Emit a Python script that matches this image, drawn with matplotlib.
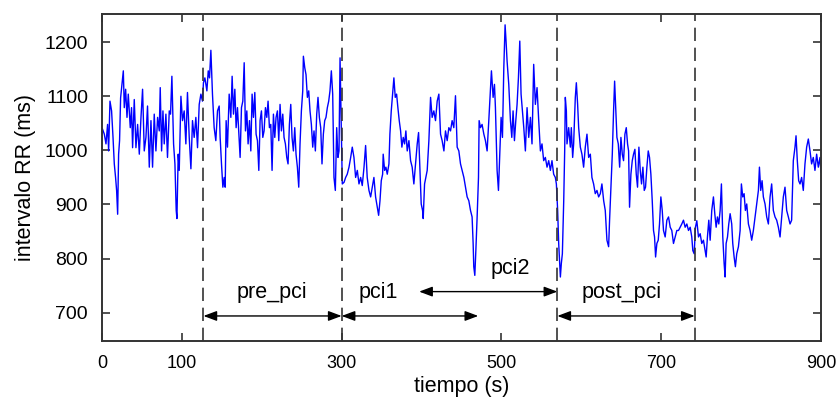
import matplotlib
matplotlib.use("Agg")
import matplotlib.pyplot as plt

plt.rcParams["font.family"] = ["Liberation Sans", "DejaVu Sans"]

# Serie RR (tiempo en s, intervalo RR en ms)
tiempo = [
    0.5, 2.9, 5, 7, 8.3, 10, 12, 13.8, 15.4, 17, 18.3, 19.6, 20.8, 22, 23.3, 25, 26.7, 27.9, 29.6, 31.3,
    32.9, 35.4, 37, 38.3, 40.4, 42.5, 44.6, 46.7, 48.8, 50.8, 52.9, 55, 57, 59.2, 61.3, 63.3, 65.4, 67.5,
    69.6, 71.7, 72.9, 74.6, 76.3, 77.9, 80, 82, 84.2, 85.8, 87.5, 89.6, 91.3, 92.9, 93.8, 95.4, 96.7,
    98.8, 100.8, 102.9, 105, 107, 109.2, 111.3, 113.3, 115.4, 117.5, 119.6, 121.7, 123.8, 125.8, 127,
    128.8, 131.3, 133, 134.6, 136.3, 138.3, 140.4, 142.5, 144.6, 146.7, 147.9, 149.6, 151.3, 153, 154.2,
    155.4, 157.1, 159.2, 161.3, 162.9, 164.6, 166.3, 167.9, 169.6, 171.3, 172.9, 174.6, 176.3, 178,
    179.6, 181.3, 182.9, 184.6, 186.3, 187.9, 189.6, 191.3, 192.9, 194.6, 196.3, 197.9, 199.6, 201.3,
    202.9, 204.6, 206.3, 207.9, 209.6, 211.3, 212.9, 214.6, 216.3, 217.9, 219.6, 221.3, 222.9, 224.6,
    226.3, 227.9, 229.6, 231.3, 232.9, 234.6, 236.3, 237.9, 239.6, 241.3, 242.9, 244.6, 246.3, 247.9,
    249.6, 251.3, 252.1, 253.8, 255.4, 257.1, 258.8, 260.4, 262.1, 263.8, 265.4, 267.1, 268.8, 270.4,
    272.1, 273.8, 275.4, 277.1, 278.8, 280.4, 282.1, 283.8, 285.4, 287.1, 288.8, 290.4, 292.1, 293.8,
    295.4, 296.7, 298,
    300.8, 303, 305, 307, 309.2, 311.3, 313.3, 315.4, 317.5, 319.6, 321.7, 323.8, 325.8, 328, 330, 332,
    334.2, 336.3, 338.3, 340.4, 342.5, 344.6, 346.3, 348, 349.6, 351.3, 352, 353.8, 355.4, 357.1, 359.2,
    360.4, 362.1, 363.8, 365.4, 367.1, 368.8, 370.4, 372.1, 373.8, 375.4, 377.1, 378.8, 380.4, 382.1,
    384.2, 386.3, 388.3, 390.4, 392.5, 394.6, 396.3, 397.9, 399.6, 401.3, 402.1, 403.8, 405.4, 407.1,
    409.2, 411.3, 413.3, 415.4, 417.5, 419.6, 421.7, 423.8, 425.8, 428, 430, 432.1, 434.2, 436.3, 438.3,
    440.4, 442.5, 444.6, 446.7, 448.8, 450.8, 453, 455, 457.1, 459.2, 461.3, 463.3, 464.6, 465.4, 466.7,
    468, 469.6, 471.3, 472.1, 473.8, 475.8, 478, 480, 482.1, 484.2, 486.3, 487.5, 489.6, 491.3, 492.5,
    494.6, 496.3, 498, 499.6, 501.3, 503, 504.6, 505.8, 507.1, 509.2, 511.3, 513, 514.6, 516.3, 518,
    519.6, 521.3, 523, 524.6, 526.3, 528, 530, 532.1, 534.2, 536.3, 538.3, 540.4, 542.5, 544.6, 546.7,
    548.8, 550.8, 552.9, 555, 557.1, 559.2, 561.3, 563.3, 565.4,
    567.5, 568.8, 570.4, 571.7, 572.9, 573.8, 575, 576.3, 578, 579.2, 580, 581.3, 582.1, 584.2, 586.3,
    587.5, 589.2, 590.4, 592.5, 593.8, 595.4, 596.7, 598.8, 600.8, 602.9, 605, 607.1, 609.2, 611.3,
    613.3, 615.4, 617.5, 619.6, 621.7, 623.8, 625.8, 628, 630, 632.1, 634.2, 635.4, 637.1, 638.8, 640.4,
    641.7, 642.9, 644.6, 646.3, 648, 649.6, 651.3, 652.9, 654.6, 656.3, 657.9, 659.2, 660.4, 662.1,
    663.8, 665.4, 667.1, 668.8, 670.4, 672.1, 673.8, 675.4, 677.1, 678.8, 680.4, 682.1, 683.8, 685.4,
    687.1, 688.8, 690.4, 691.7, 693, 694.6, 696.3, 697.9, 699.6, 701.3, 702.9, 705, 707.1, 709.2, 711.3,
    713.3, 715.4, 717.5, 719.6, 721.7, 723.8, 725.8, 727.9, 730, 732.1, 734.2, 736.3,
    738.3, 739.6, 741.3, 742.9, 744.6, 746.7, 748.8, 750.8, 752.9, 755, 756.3, 757.9, 759.6, 761.3,
    763.3, 765.4, 767.1, 768.8, 770.4, 772.1, 773.8, 775.4, 777.1, 778.8, 780, 781.3, 783, 784.6, 786.3,
    788.3, 789.6, 791.3, 792.9, 794.6, 796.7, 798.8, 800.4, 802.1, 803.8, 805.4, 807.1, 809.2, 811.3,
    813.3, 815.4, 817.5, 819.6, 821.7, 823, 824.6, 826.3, 827.9, 830, 832.1, 834.2, 836.3, 838.3, 840.4,
    842.5, 844.6, 846.7, 848.8, 850.8, 852.9, 855, 857.1, 859.2, 861.3, 863.3, 865.4, 867.5, 868.8,
    870.4, 872.1, 873.8, 875.8, 877.9, 880, 882.1, 884.2, 886.3, 888.3, 890.4, 892.5, 894.6, 896.7,
    898.8, 900,
]
rr = [
    1040, 1030, 1012, 1048, 999, 1091, 1073, 1024, 975, 950, 926, 882, 993, 1018, 1097, 1123, 1147, 1079, 1113, 1061,
    1104, 1042, 1079, 1005, 1094, 1005, 1048, 993, 1061, 1113, 999, 1024, 1082, 969, 1055, 969, 1067, 999,
    1061, 1036, 1116, 999, 1073, 1012, 1067, 987, 1073, 1067, 1137, 1012, 975, 889, 874, 993, 963,
    1100, 1055, 1073, 1012, 1107, 1024, 966, 1055, 1024, 1061, 1005, 1085, 1104, 1091, 1125,
    1134, 1110, 1147, 1134, 1185, 1104, 1042, 1018, 1073, 1082, 1024, 975, 932, 950, 932,
    1055, 1006, 1104, 1061, 1137, 1067, 1113, 1042, 1079, 1030, 987, 1079, 1091, 1162,
    1036, 1073, 1012, 1055, 999, 1104, 1061, 1107, 1030, 1018, 963, 1055, 1073, 1024,
    1036, 1079, 1061, 1091, 1042, 1048, 963, 1067, 1024, 1061, 1073, 1018, 1085, 1036,
    1067, 1024, 1012, 987, 975, 1048, 1085, 1024, 999, 1042, 993, 969, 932, 1012,
    1073, 1110, 1174, 1153, 1140, 1098, 1110, 1073, 1048, 1006, 1036, 999, 1067, 1098,
    1061, 1042, 975, 1030, 1055, 1061, 1079, 1091, 1110, 1147, 1104, 950, 926, 1042,
    987, 999, 1171,
    938, 941, 950, 956, 969, 987, 1006, 987, 950, 963, 938, 950, 935, 969, 1009, 950,
    926, 914, 932, 950, 914, 895, 880, 907, 944, 956, 993, 963, 969, 956, 975,
    1030, 1073, 1104, 1134, 1098, 1104, 1079, 1055, 1036, 1006, 1024, 1012, 1036, 999,
    1018, 981, 969, 938, 975, 1012, 1033, 969, 901, 889, 874, 938, 950, 963,
    1018, 1098, 1061, 1073, 1055, 1091, 1104, 1030, 1018, 999, 1036, 1018, 1042, 1036, 1055,
    1042, 1101, 1006, 999, 975, 963, 950, 932, 914, 907, 889, 877, 828, 785, 769,
    815, 877, 950, 1055, 1042, 1048, 1030, 1018, 999, 1055, 1116, 1147, 1098, 1122, 1079,
    963, 926, 993, 1061, 1024, 1153, 1232, 1202, 1165, 1122, 1055, 1024, 1073, 1018, 1055,
    1085, 1134, 1202, 1104, 1073, 1042, 999, 1079, 1024, 1061, 1012, 1159, 1085, 1116, 1055,
    999, 1012, 981, 987, 969, 981, 963, 981, 956,
    950, 938, 889, 828, 791, 766, 791, 809, 907, 999, 1098, 1073, 1012, 1042, 1006,
    1042, 987, 1012, 1098, 1125, 1085, 1042, 1006, 993, 969, 1006, 1030, 987, 993,
    950, 938, 920, 926, 914, 920, 938, 907, 889, 834, 822, 871, 932, 993, 1073,
    1128, 1085, 1024, 1012, 969, 1024, 993, 981, 1030, 1042, 1012, 999, 895, 956,
    981, 993, 1002, 956, 932, 1006, 963, 938, 969, 926, 932, 969, 999, 987,
    956, 907, 852, 840, 803, 828, 834, 864, 914, 889, 852, 840, 871, 877, 858,
    852, 828, 840, 852, 852, 858, 864, 871, 858, 864, 852, 858,
    840, 815, 809, 858, 870, 840, 846, 828, 834, 815, 803, 840, 871, 834,
    889, 914, 883, 858, 877, 864, 889, 938, 840, 791, 766, 828, 840, 864, 883,
    864, 828, 803, 785, 809, 822, 852, 938, 914, 920, 889, 901, 864, 852,
    834, 852, 877, 901, 926, 969, 926, 944, 914, 901, 877, 864, 914, 938, 889,
    877, 871, 858, 840, 877, 914, 932, 889, 877, 864, 871, 981, 1006, 1027,
    981, 944, 938, 950, 926, 975, 1006, 1021, 999, 975, 987, 963, 993, 969,
    987, 960,
]

# Limites de las fases y etiquetas
fases_t = [127, 300, 570, 742]
fases = [
    # (texto, x texto, y texto, inicio flecha, fin flecha, y flecha)
    ("pre_pci", 213, 737, 127, 300, 694),
    ("pci1", 346, 737, 300, 471, 694),
    ("pci2", 511, 781, 397, 570, 739),
    ("post_pci", 651, 737, 570, 742, 694),
]

fig = plt.figure(figsize=(8.36, 4.01), dpi=100)
ax = fig.add_axes([0.122, 0.150, 0.860, 0.815])

ax.plot(tiempo, rr, color="#0000ff", lw=1.0)

for t in fases_t:
    ax.axvline(t, color="#333333", lw=1.2, dashes=(8, 4))

for txt, xt, yt, x0, x1, ya in fases:
    ax.annotate(
        "", xy=(x1, ya), xytext=(x0, ya),
        arrowprops=dict(arrowstyle="<|-|>,head_length=0.8,head_width=0.3",
                        color="black", lw=1.0, shrinkA=0, shrinkB=0),
    )
    ax.text(xt, yt, txt, fontsize=15.5, ha="center", va="center", color="black")

ax.set_xlim(0, 900)
ax.set_ylim(648, 1252)
ax.set_xticks([0, 100, 300, 500, 700, 900])
ax.set_yticks(range(700, 1201, 100))

ax.tick_params(direction="in", top=True, right=True, length=6, width=1.2,
               labelsize=14, pad=10, color="#333333")
ax.tick_params(axis="x", labelsize=13)
for s in ax.spines.values():
    s.set_color("#333333")
    s.set_linewidth(1.4)

ax.set_xlabel("tiempo (s)", fontsize=15.5, labelpad=3)
ax.set_ylabel("intervalo RR (ms)", fontsize=15.5, labelpad=6)

fig.savefig("out.png", dpi=100)
